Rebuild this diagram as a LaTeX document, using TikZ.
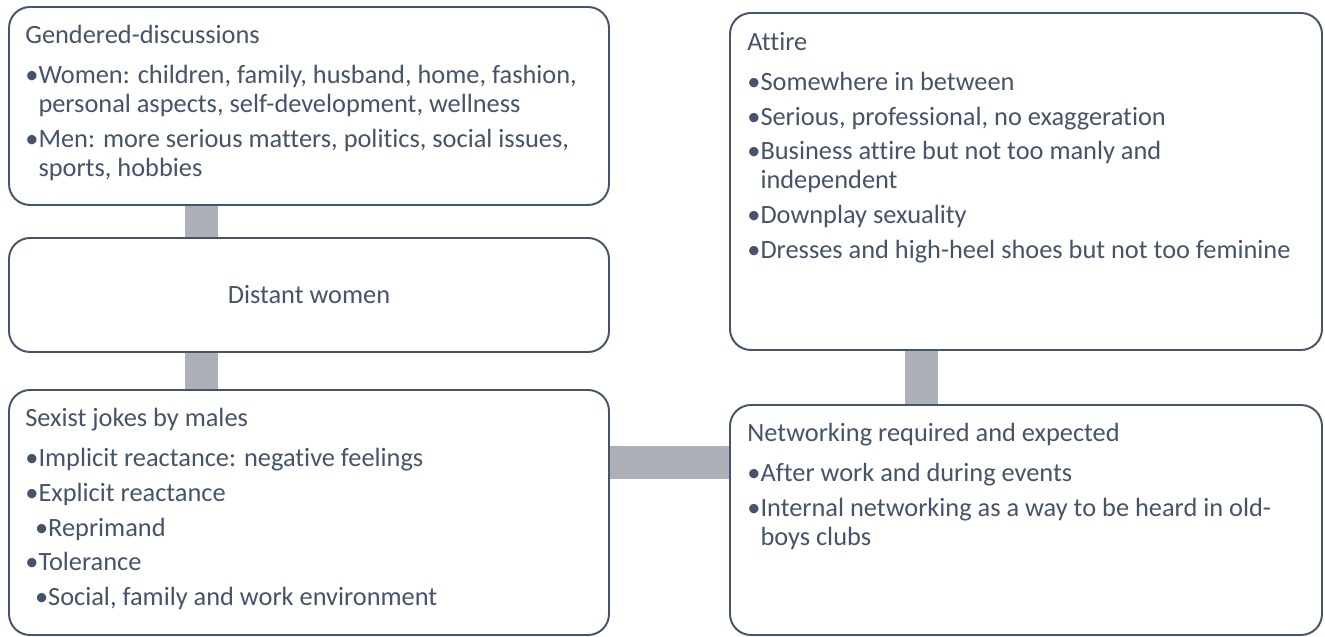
\documentclass[tikz,border=0pt]{standalone}
\usepackage{fontspec}
\setmainfont{Carlito}[Ligatures=NoCommon]
\usepackage{tikz}
\usetikzlibrary{backgrounds}

\definecolor{slate}{HTML}{44546A}
\definecolor{linkgray}{HTML}{ADB0B8}

\tikzset{
  card/.style={draw=slate, line width=1.1pt, rounded corners=0.42cm, fill=white},
  cardtext/.style={anchor=north west, inner sep=0pt, align=left, text=slate,
    font=\fontsize{15}{16.5}\selectfont},
  link/.style={draw=linkgray, line width=0.66cm}
}
\newcommand{\bul}{\textbullet}
\newcommand{\ind}{\hphantom{\textbullet}}
\newcommand{\sub}{\hspace*{5.5pt}}

\begin{document}
\begin{tikzpicture}
    \useasboundingbox (0, 0) rectangle (26.5, -12.74);

    \node [card, minimum width=12cm, minimum height=3.96cm] (gend) at (6.18, -2.12) {};
    \node [card, minimum width=12cm, minimum height=2.28cm] (dist) at (6.18, -5.90) {};
    \node [card, minimum width=12cm, minimum height=4.9cm] (sexist) at (6.18, -10.25) {};
    \node [card, minimum width=11.84cm, minimum height=6.74cm] (attire) at (20.52, -3.63) {};
    \node [card, minimum width=11.84cm, minimum height=4.6cm] (net) at (20.52, -10.4) {};

    \node [cardtext] (gendtxt) at ([shift={(0.34,-0.38)}]gend.north west) {%
      Gendered-discussions\\[6.2pt]
      \bul Women: children, family, husband, home, fashion,\\
      \ind personal aspects, self-development, wellness\\[3.3pt]
      \bul Men: more serious matters, politics, social issues,\\
      \ind sports, hobbies};
    \node [cardtext, anchor=center] (disttxt) at (dist.center) {Distant women};
    \node [cardtext] (sexisttxt) at ([shift={(0.34,-0.38)}]sexist.north west) {%
      Sexist jokes by males\\[6.2pt]
      \bul Implicit reactance: negative feelings\\[3.3pt]
      \bul Explicit reactance\\[3.3pt]
      \sub\bul Reprimand\\[3.3pt]
      \bul Tolerance\\[3.3pt]
      \sub\bul Social, family and work environment};
    \node [cardtext] (attiretxt) at ([shift={(0.36,-0.4)}]attire.north west) {%
      Attire\\[6.2pt]
      \bul Somewhere in between\\[3.3pt]
      \bul Serious, professional, no exaggeration\\[3.3pt]
      \bul Business attire but not too manly and\\
      \ind independent\\[3.3pt]
      \bul Downplay sexuality\\[3.3pt]
      \bul Dresses and high-heel shoes but not too feminine};
    \node [cardtext] (nettxt) at ([shift={(0.36,-0.38)}]net.north west) {%
      Networking required and expected\\[6.2pt]
      \bul After work and during events\\[3.3pt]
      \bul Internal networking as a way to be heard in old-\\
      \ind boys clubs};

    % grey links behind the cards
    \begin{scope}[on background layer]
      \draw [link] ([xshift=-2.15cm]gend.south) -- ([xshift=-2.15cm]dist.north);
      \draw [link] ([xshift=-2.15cm]dist.south) -- ([xshift=-2.15cm]sexist.north);
      \draw [link] ([xshift=-2.1cm]attire.south) -- ([xshift=-2.1cm]attire.south |- net.north);
      \draw [link] ([yshift=0.99cm]sexist.east) -- ([yshift=0.99cm]sexist.east -| net.west);
    \end{scope}
\end{tikzpicture}
\end{document}
